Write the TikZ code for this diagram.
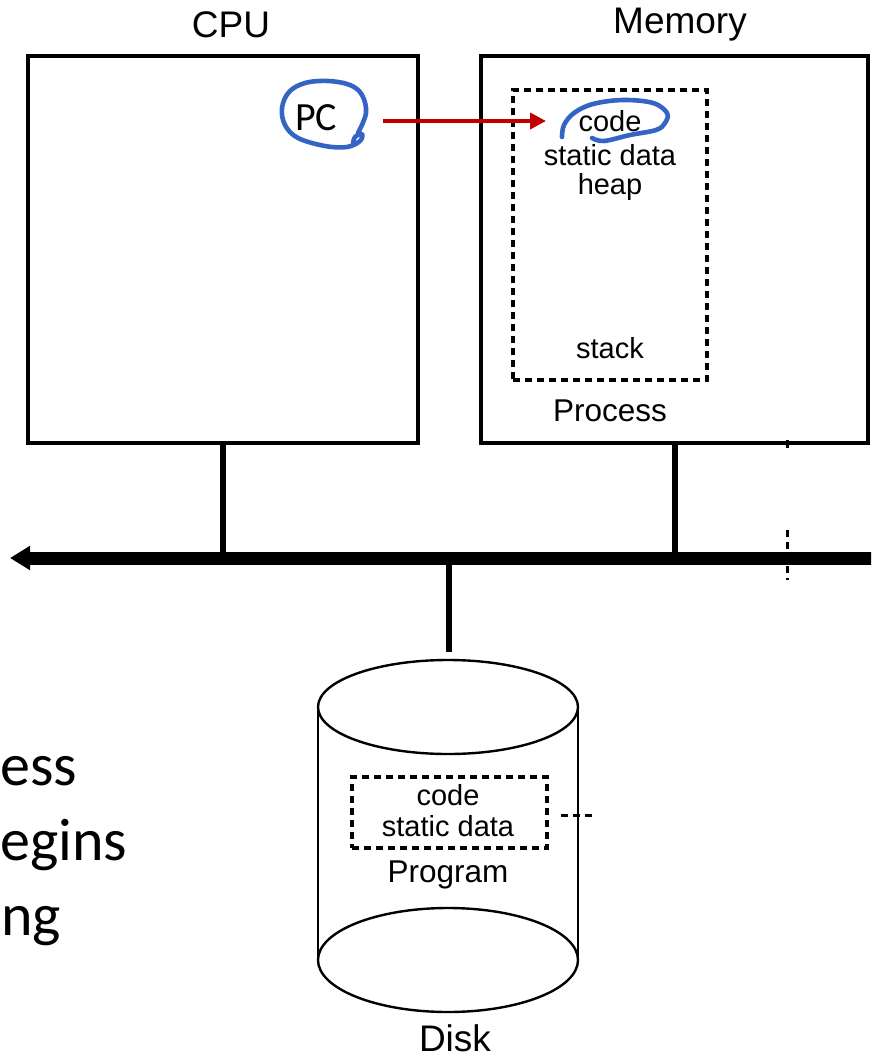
\documentclass[tikz,border=0pt]{standalone}
\usepackage{fontspec}
\setmainfont{Liberation Sans}
\newfontfamily\calib{Carlito}
\usetikzlibrary{arrows.meta}
\definecolor{inkblue}{RGB}{52,100,196}
\definecolor{ptrred}{RGB}{192,0,0}
\tikzset{
  box/.style={draw=black, line width=3.4pt, inner sep=0pt},
  dashbox/.style={draw=black, line width=3.2pt, dash pattern=on 7pt off 5pt, inner sep=0pt},
  title/.style={font=\fontsize{37}{40}\selectfont, inner sep=0pt},
  part/.style={font=\fontsize{29}{32}\selectfont, inner sep=0pt},
  caption/.style={font=\fontsize{31.5}{34}\selectfont, inner sep=0pt},
  wire/.style={line width=6pt},
  ink/.style={draw=inkblue, line width=4.6pt, line cap=round, line join=round},
  slide/.style={font=\calib\fontsize{60}{70}\selectfont, inner sep=0pt, anchor=base west},
}
\begin{document}
\begin{tikzpicture}[x=1pt,y=-1pt]
\useasboundingbox (0,0) rectangle (871,1057);
\clip (0,0) rectangle (871,1057);
\fill[white] (0,0) rectangle (871,1057);

% CPU and memory boxes
\node[box, minimum width=390pt, minimum height=387pt] (cpu) at (223,249.5) {};
\node[box, minimum width=387pt, minimum height=387pt] (mem) at (674.5,249.5) {};
\node[title] (cpulbl) at (231,25) {CPU};
\node[title] (memlbl) at (680,25) {Memory};

% process image in memory
\node[dashbox, minimum width=194pt, minimum height=290pt] (proc) at (610,235) {};
\node[part] (pcode) at (610,121) {code};
\node[part] (pdata) at (610,155) {static data};
\node[part] (pheap) at (610,187) {heap};
\node[part] (pstack) at (610,348) {stack};
\node[caption] (plbl) at (610,411) {Process};

% program counter
\node[font=\calib\fontsize{40}{44}\selectfont, inner sep=0pt] (pc) at (316,118) {PC};
\coordinate (pcout) at (383,121);
\coordinate (pcin) at (546,121);
\draw[ptrred, line width=3.8pt, -{Triangle[length=16pt, width=16pt]}] (pcout) -- (pcin);

% hand-drawn circles
\draw[ink] plot[smooth, tension=0.6] coordinates {(358,133) (366,113) (362,95) (350,85) (328,81) (305,83) (289,92) (282,108) (285,125) (298,138) (325,146) (347,147) (360,141) (362,134) (355,137) (353,144)};
\draw[ink] plot[smooth, tension=0.6] coordinates {(562,137) (564,125) (574,113) (593,104) (623,100) (653,103) (667,113) (665,123) (656,130) (630,135) (604,141) (592,138)};

% system bus
\coordinate (busL) at (10,558);
\coordinate (busR) at (905,558);
\draw[line width=13pt, -{Triangle[length=20pt, width=23pt]}] (busR) -- (busL);
\draw[wire] (cpu.south) -- (cpu.south |- busL);
\draw[wire] (mem.south) -- (mem.south |- busL);
\coordinate (disktop) at (449,652);
\draw[wire] (disktop |- busL) -- (disktop);

% stray guide marks
\coordinate (g1) at (787,440);
\coordinate (g2) at (787,448);
\coordinate (g3) at (787,530);
\coordinate (g4) at (787,580);
\draw[line width=3pt] (g1) -- (g2);
\draw[line width=3pt, dash pattern=on 7pt off 5pt] (g3) -- (g4);

% disk
\draw[line width=2.4pt] (318,707) -- (318,960);
\draw[line width=2.4pt] (578,707) -- (578,960);
\draw[line width=2.4pt, fill=white] (448,707) ellipse [x radius=130pt, y radius=47pt];
\draw[line width=2.4pt] (448,960) ellipse [x radius=130pt, y radius=52pt];

% program image on disk
\node[dashbox, minimum width=195pt, minimum height=71pt] (prog) at (449.5,812.5) {};
\node[part] (dcode) at (448,795) {code};
\node[part] (ddata) at (448,826) {static data};
\node[caption] (dlbl) at (448,875) {Program};
\node[title] (disklbl) at (455,1038) {Disk};
\coordinate (progtail) at (592,815);
\draw[line width=3pt, dash pattern=on 7pt off 5pt] ([xshift=12pt]prog.east |- progtail) -- (progtail);

% slide text at the left margin
\node[slide] (s1) at (0,785) {ess};
\node[slide] (s2) at (0,860) {egins};
\node[slide] (s3) at (1,935) {ng};
\end{tikzpicture}
\end{document}
